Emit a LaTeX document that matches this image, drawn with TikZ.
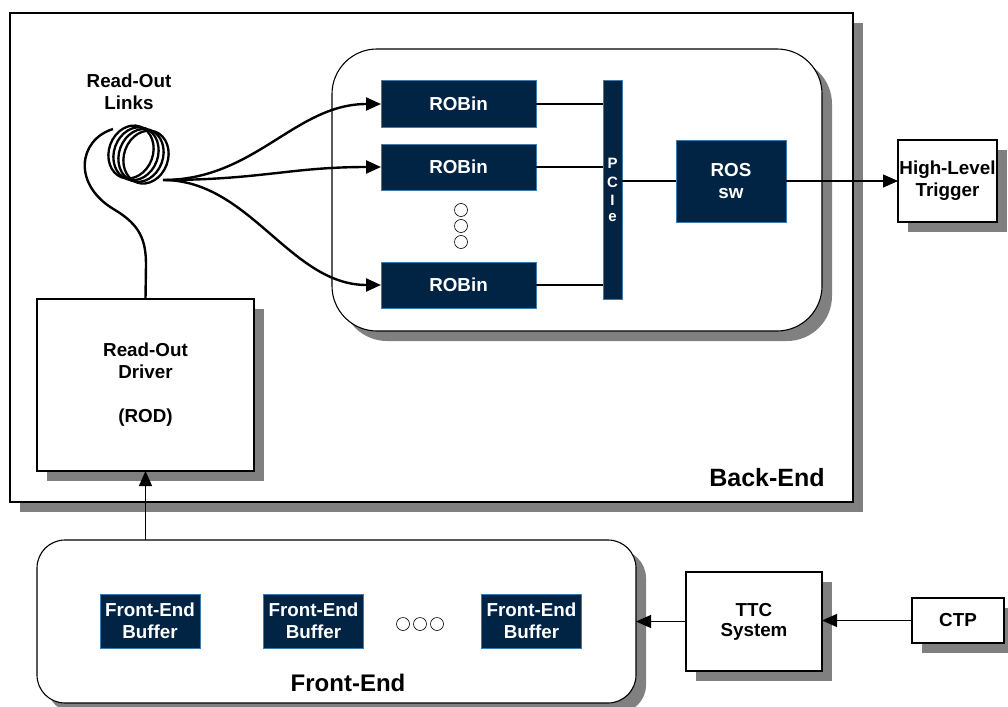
\documentclass[tikz,border=0pt]{standalone}
\usepackage{fontspec}
\setmainfont{Liberation Sans}
\usetikzlibrary{arrows.meta,shadows}
\definecolor{navy}{HTML}{022444}
\definecolor{navyedge}{HTML}{3B7BB0}
\definecolor{shadowgray}{HTML}{808080}

\begin{document}
\begin{tikzpicture}[x=1pt,y=-1pt,
  font=\fontsize{18.8}{22}\selectfont\bfseries,
  every node/.style={inner sep=0pt, outer sep=0pt},
  boxshadow/.style={drop shadow={shadow xshift=10pt, shadow yshift=-10pt, fill=shadowgray, opacity=1}},
  whitebox/.style={rectangle, draw=black, line width=1.1pt, fill=white, align=center, boxshadow},
  roundbox/.style={whitebox, rounded corners=#1},
  darkbox/.style={rectangle, draw=navyedge, line width=1pt, fill=navy, text=white, align=center},
  conn/.style={draw=black, line width=1.1pt},
  tip/.style={-{Triangle[length=15pt,width=13pt]}},
  wire/.style={draw=black, line width=2.4pt},
  wiretip/.style={wire, -{Triangle[length=15pt,width=13pt]}},
  dot/.style={draw=black, line width=0.6pt, fill=white}
]
\useasboundingbox (0,0) rectangle (1008,706);

% ---------- back-end crate ----------
\node[whitebox, minimum width=843pt, minimum height=489pt] (be) at (431.5,257.5) {};
\node[font=\fontsize{25}{30}\selectfont\bfseries] (belabel) at (767,478) {Back-End};

% read-out system PC
\node[roundbox=45pt, minimum width=490pt, minimum height=282pt] (ros) at (577,190) {};

% ROBin cards
\node[darkbox, minimum width=155pt, minimum height=46pt] (robin1) at (458.5,104) {ROBin};
\node[darkbox, minimum width=155pt, minimum height=46pt] (robin2) at (458.5,167) {ROBin};
\node[darkbox, minimum width=155pt, minimum height=46pt] (robin3) at (458.5,285) {ROBin};
\node[dot, circle, minimum size=13pt] (vd1) at (461,210) {};
\node[dot, circle, minimum size=13pt] (vd2) at (461,226) {};
\node[dot, circle, minimum size=13pt] (vd3) at (461,242) {};

% PCIe bus
\node[darkbox, minimum width=19pt, minimum height=218pt] (pcie) at (612.5,190) {};
\begin{scope}[font=\fontsize{15}{16}\selectfont\bfseries, text=white]
  \node (pP) at (612.5,163) {P};
  \node (pC) at (612.5,182) {C};
  \node (pI) at (612.5,200) {I};
  \node (pe) at (612.5,218) {e};
\end{scope}

% ROS software
\node[darkbox, minimum width=110pt, minimum height=82pt] (rossw) at (731,181) {ROS\\sw};

% buses to PCIe
\draw[conn] (robin1.east) -- (robin1.east -| pcie.west);
\draw[conn] (robin2.east) -- (robin2.east -| pcie.west);
\draw[conn] (robin3.east) -- (robin3.east -| pcie.west);
\draw[conn] (rossw.west -| pcie.east) -- (rossw.west);

% Read-Out Driver
\node[whitebox, minimum width=217pt, minimum height=172pt] (rod) at (145.5,385) {Read-Out\\Driver\\ \\(ROD)};

% Read-out links: coiled fibre
\node[align=center] (links) at (129,92) {Read-Out\\Links};
\foreach \i in {0,...,3}
  \draw[line width=2.3pt] ({131+5*\i},{152+1.7*\i}) ellipse [x radius=22, y radius=27, rotate=-20];
\coordinate (coilin) at (113,129);
\coordinate (coilout) at (163,180);
\draw[wire] (coilin) .. controls (78,140) and (72,185) .. (115,210)
  .. controls (140,225) and (146,240) .. (146,265) -- (rod.north);
\draw[wiretip] (coilout) .. controls (255,180) and (295,104) .. (robin1.west);
\draw[wiretip] (coilout) .. controls (260,180) and (290,167) .. (robin2.west);
\draw[wiretip] (coilout) .. controls (250,180) and (290,285) .. (robin3.west);

% High-Level Trigger
\node[whitebox, minimum width=99pt, minimum height=82pt] (hlt) at (947.5,181) {High-Level\\Trigger};
\draw[conn, tip] (rossw.east) -- (hlt.west);

% ---------- front-end ----------
\node[roundbox=28pt, minimum width=599pt, minimum height=163pt] (fe) at (336.5,621.5) {};
\node[font=\fontsize{24}{28}\selectfont\bfseries] (felabel) at (348,683) {Front-End};
\node[darkbox, minimum width=100pt, minimum height=54pt] (buf1) at (150,621) {Front-End\\Buffer};
\node[darkbox, minimum width=100pt, minimum height=54pt] (buf2) at (313.5,621) {Front-End\\Buffer};
\node[darkbox, minimum width=100pt, minimum height=54pt] (buf3) at (531.5,621) {Front-End\\Buffer};
\node[dot, circle, minimum size=13pt] (hd1) at (403,624) {};
\node[dot, circle, minimum size=13pt] (hd2) at (420,624) {};
\node[dot, circle, minimum size=13pt] (hd3) at (437,624) {};

\draw[conn, tip] (rod.south |- fe.north) -- (rod.south);

% timing
\node[whitebox, minimum width=136pt, minimum height=99pt, font=\fontsize{18.8}{20}\selectfont\bfseries] (ttc) at (754,621.5) {TTC\\System};
\node[whitebox, minimum width=92pt, minimum height=45pt] (ctp) at (958,620.5) {CTP};
\draw[conn, tip] (ctp.west) -- (ctp.west -| ttc.east);
\draw[conn, tip] (ttc.west) -- (ttc.west -| fe.east);
\end{tikzpicture}
\end{document}
